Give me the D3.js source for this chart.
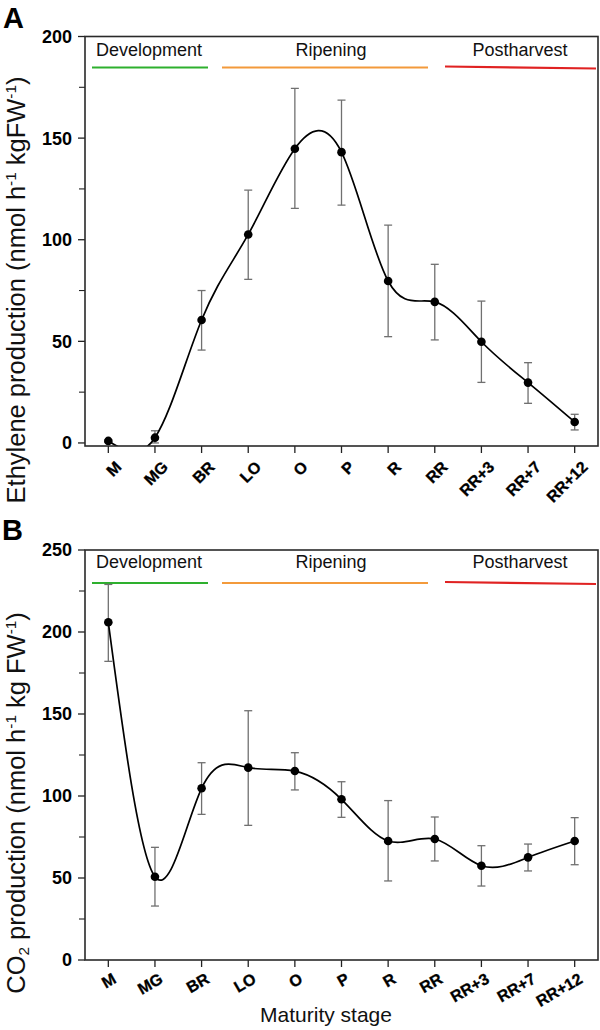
<!DOCTYPE html>
<html>
<head>
<meta charset="utf-8">
<script src="https://cdn.jsdelivr.net/npm/d3@7"></script>
<style>
  html, body { margin: 0; padding: 0; background: #fff; }
  svg { display: block; font-family: Arial, "Liberation Sans", Helvetica, sans-serif; }
</style>
</head>
<body>
<svg id="chart" width="600" height="1030"></svg>
<script>
// ---------- data ----------
const categories = ["M", "MG", "BR", "LO", "O", "P", "R", "RR", "RR+3", "RR+7", "RR+12"];

const ethylene   = [1.0, 2.6, 60.5, 102.6, 144.8, 143.1, 79.7, 69.4, 49.8, 29.7, 10.3];
const ethyleneHi = [1.5, 6.0, 75.0, 124.4, 174.5, 168.7, 107.2, 87.9, 69.8, 39.5, 14.1];
const ethyleneLo = [0.5, 0.0, 45.7, 80.5, 115.4, 117.0, 52.3, 50.7, 29.8, 19.5, 6.4];

const co2   = [205.9, 50.8, 104.7, 117.3, 115.2, 98.0, 72.6, 73.8, 57.5, 62.6, 72.6];
const co2Hi = [229.0, 68.7, 120.3, 152.0, 126.4, 108.7, 97.2, 87.2, 69.7, 70.7, 86.8];
const co2Lo = [182.1, 32.9, 88.8, 82.1, 103.7, 87.0, 48.2, 60.4, 45.1, 54.3, 58.1];

const yTicksA = [0, 50, 100, 150, 200];
const yMinorA = [25, 75, 125, 175];
const yTicksB = [0, 50, 100, 150, 200, 250];
const yMinorB = [25, 75, 125, 175, 225];

const phaseNames  = ["Development", "Ripening", "Postharvest"];
const phaseColors = ["#2eb02e", "#f39a3b", "#e02222"];

// ---------- layout ----------
const svg = d3.select("#chart");
const left = 85, right = 598;

const x = d3.scalePoint().domain(categories).range([left, right]).padding(0.5);

// phase bar pixel extents (layout)
const phaseBars = [[92, 208], [222, 428], [445, 596]];
const phaseTextX = [149, 331, 520];

function drawPanel(cfg) {
  const g = svg.append("g");
  const y = d3.scaleLinear().domain(cfg.domain).range(cfg.range);
  const top = cfg.range[1], bottom = cfg.range[0];

  // panel letter
  g.append("text").attr("x", cfg.letterX).attr("y", cfg.letterY)
    .attr("font-size", 29).attr("font-weight", "bold").attr("fill", "#000")
    .text(cfg.letter);

  // clip
  const clipId = "clip" + cfg.letter;
  svg.append("clipPath").attr("id", clipId)
    .append("rect").attr("x", left).attr("y", top).attr("width", right - left).attr("height", bottom - top);

  // phases
  phaseNames.forEach((n, i) => {
    g.append("text").attr("x", phaseTextX[i]).attr("y", top + cfg.phaseTextDy)
      .attr("text-anchor", "middle").attr("font-size", 18).attr("fill", "#111").text(n);
    const [a, b] = phaseBars[i];
    g.append("line").attr("x1", a).attr("x2", b)
      .attr("y1", top + cfg.phaseLineDy - (i === 2 ? 1 : 0))
      .attr("y2", top + cfg.phaseLineDy + (i === 2 ? 1 : 0))
      .attr("stroke", phaseColors[i]).attr("stroke-width", 2.2);
  });

  // y ticks
  g.selectAll(".ytick").data(cfg.yTicks).join("line").attr("class", "ytick")
    .attr("x1", left - 7).attr("x2", left).attr("y1", d => y(d)).attr("y2", d => y(d))
    .attr("stroke", "#222").attr("stroke-width", 1.3);
  g.selectAll(".yminor").data(cfg.yMinor).join("line").attr("class", "yminor")
    .attr("x1", left - 6).attr("x2", left).attr("y1", d => y(d)).attr("y2", d => y(d))
    .attr("stroke", "#222").attr("stroke-width", 1.1);
  g.selectAll(".ylab").data(cfg.yTicks).join("text").attr("class", "ylab")
    .attr("x", left - 13).attr("y", d => y(d)).attr("dy", "0.36em")
    .attr("text-anchor", "end").attr("font-size", 18).attr("font-weight", "bold").attr("fill", "#000")
    .text(d => d);

  // x ticks
  g.selectAll(".xtick").data(categories).join("line").attr("class", "xtick")
    .attr("x1", d => x(d)).attr("x2", d => x(d)).attr("y1", bottom).attr("y2", bottom + 7)
    .attr("stroke", "#222").attr("stroke-width", 1.3);
  g.selectAll(".xlab").data(categories).join("text").attr("class", "xlab")
    .attr("x", 0).attr("y", 0)
    .attr("transform", d => "translate(" + (x(d) + cfg.xlabDx) + "," + (bottom + cfg.xlabDy) + ") rotate(" + cfg.xlabRot + ")")
    .attr("text-anchor", "end").attr("font-size", 16).attr("font-weight", "bold").attr("fill", "#000")
    .attr("stroke", "#000").attr("stroke-width", 0.3)
    .text(d => d);

  // y title
  const t = g.append("text")
    .attr("transform", "translate(" + cfg.titleX + "," + cfg.titleY + ") rotate(-90)")
    .attr("text-anchor", "middle").attr("font-size", cfg.titleSize).attr("fill", "#111");
  cfg.title.forEach(part => {
    const ts = t.append("tspan").text(part.t);
    if (part.sup) ts.attr("font-size", "0.6em").attr("baseline-shift", "60%");
    if (part.sub) ts.attr("font-size", "0.6em").attr("baseline-shift", "-25%");
  });

  // error bars
  const eb = g.append("g").attr("clip-path", "url(#" + clipId + ")");
  categories.forEach((c, i) => {
    const hi = cfg.hi[i], lo = cfg.lo[i];
    eb.append("line").attr("x1", x(c)).attr("x2", x(c)).attr("y1", y(hi)).attr("y2", y(lo))
      .attr("stroke", "#707070").attr("stroke-width", 1.3);
    [hi, lo].forEach(v => {
      eb.append("line").attr("x1", x(c) - 4).attr("x2", x(c) + 4).attr("y1", y(v)).attr("y2", y(v))
        .attr("stroke", "#707070").attr("stroke-width", 1.3);
    });
  });

  // curve
  const line = d3.line().x((d, i) => x(categories[i])).y(d => y(d)).curve(d3.curveNatural);
  g.append("path").datum(cfg.values).attr("clip-path", "url(#" + clipId + ")")
    .attr("d", line).attr("fill", "none").attr("stroke", "#000").attr("stroke-width", 1.7);

  // points
  g.selectAll(".pt").data(cfg.values).join("circle").attr("class", "pt")
    .attr("cx", (d, i) => x(categories[i])).attr("cy", d => y(d)).attr("r", 4.3).attr("fill", "#000");

  // frame
  g.append("rect").attr("x", left).attr("y", top).attr("width", right - left).attr("height", bottom - top)
    .attr("fill", "none").attr("stroke", "#2a2a2a").attr("stroke-width", 1.6);
}

drawPanel({
  letter: "A", letterX: 3, letterY: 28,
  domain: [-1.5, 200], range: [446, 36.5],
  yTicks: yTicksA, yMinor: yMinorA,
  values: ethylene, hi: ethyleneHi, lo: ethyleneLo,
  phaseTextDy: 19, phaseLineDy: 31,
  xlabDx: 14, xlabDy: 22, xlabRot: -45,
  titleX: 25, titleY: 290, titleSize: 25.5,
  title: [{t: "Ethylene production (nmol h"}, {t: "-1", sup: true}, {t: " kgFW"}, {t: "-1", sup: true}, {t: ")"}]
});

drawPanel({
  letter: "B", letterX: 2, letterY: 540,
  domain: [0, 250], range: [960, 550],
  yTicks: yTicksB, yMinor: yMinorB,
  values: co2, hi: co2Hi, lo: co2Lo,
  phaseTextDy: 18, phaseLineDy: 33,
  xlabDx: 9, xlabDy: 22, xlabRot: -30,
  titleX: 25, titleY: 803, titleSize: 25.5,
  title: [{t: "CO"}, {t: "2", sub: true}, {t: " production (nmol h"}, {t: "-1", sup: true}, {t: " kg FW"}, {t: "-1", sup: true}, {t: ")"}]
});

svg.append("text").attr("x", 326).attr("y", 1022).attr("text-anchor", "middle")
  .attr("font-size", 21).attr("fill", "#111").text("Maturity stage");
</script>
</body>
</html>
